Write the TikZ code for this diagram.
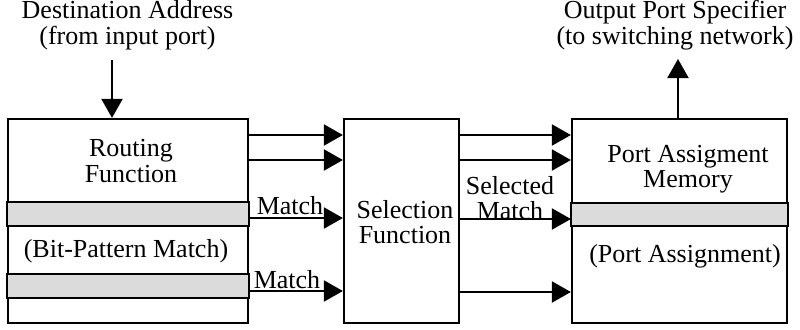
\documentclass[tikz,border=0pt]{standalone}
\usepackage{fontspec}
\setmainfont{Liberation Serif}
\usetikzlibrary{arrows.meta}
\begin{document}
\begin{tikzpicture}[x=0.5pt,y=-0.5pt,
  lbl/.style={inner sep=0pt,align=center,font=\fontsize{13}{12.8}\selectfont},
  unit/.style={draw,line width=1.1pt,inner sep=0pt,minimum height=102pt},
  band/.style={draw,line width=1.1pt,fill=black!14},
  flow/.style={line width=1pt,-{Triangle[length=9.5pt,width=10.5pt]}}]
\useasboundingbox (0,0) rectangle (800,329);

% the three function blocks
\node[unit,minimum width=120pt] (rt) at (128,221) {};
\node[unit,minimum width=57.5pt] (sel) at (401.5,221) {};
\node[unit,minimum width=107.5pt] (pam) at (679.5,221) {};

% shaded match registers
\draw[band] (rt.west |- 0,202) rectangle (rt.east |- 0,226);
\draw[band] (rt.west |- 0,274) rectangle (rt.east |- 0,298);
\draw[band] (pam.west |- 0,203) rectangle (pam.east |- 0,226);

% block texts
\node[lbl] (rtt) at (131,161) {Routing\\Function};
\node[lbl] (bpm) at (126,251) {(Bit-Pattern Match)};
\node[lbl] (selt) at (405,222) {Selection\\Function};
\node[lbl] (pamt) at (688,169) {Port Assigment\\Memory};
\node[lbl] (pa) at (685,256) {(Port Assignment)};

% external input and output
\node[lbl] (dest) at (127.5,25) {Destination Address\\(from input port)};
\node[lbl] (outp) at (675,25) {Output Port Specifier\\(to switching network)};
\coordinate (din) at (112,60);
\coordinate (dout) at (678,59);
\draw[flow] (din) -- (rt.north -| din);
\draw[flow] (pam.north -| dout) -- (dout);

% routing function to selection function
\draw[flow] (rt.east |- 0,135) -- (sel.west |- 0,135);
\draw[flow] (rt.east |- 0,160) -- (sel.west |- 0,160);
\draw[flow] (rt.east |- 0,218) -- (sel.west |- 0,218);
\draw[flow] (rt.east |- 0,291) -- (sel.west |- 0,291);
\node[lbl,anchor=base] (m1) at (290,214) {Match};
\node[lbl,anchor=base] (m2) at (287,288) {Match};

% selection function to port assignment memory
\draw[flow] (sel.east |- 0,135) -- (pam.west |- 0,135);
\draw[flow] (sel.east |- 0,160) -- (pam.west |- 0,160);
\draw[flow] (sel.east |- 0,219) -- (pam.west |- 0,219);
\draw[flow] (sel.east |- 0,292) -- (pam.west |- 0,292);
\node[lbl] (sm) at (510,198) {Selected\\Match};
\end{tikzpicture}
\end{document}
